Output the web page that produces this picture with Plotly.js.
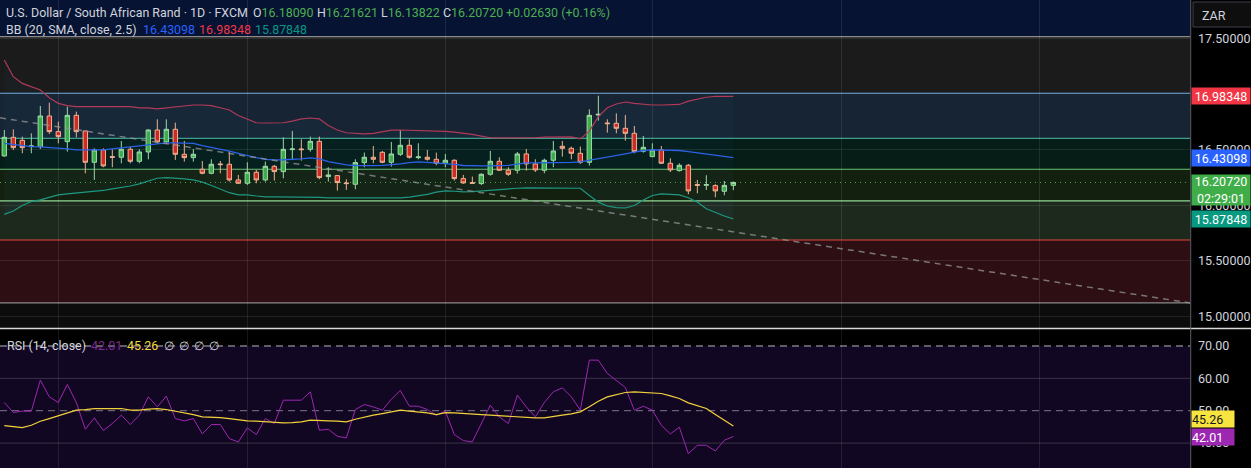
<!DOCTYPE html>
<html><head><meta charset="utf-8">
<script src="https://cdn.plot.ly/plotly-3.0.1.min.js"></script>
<style>html,body{margin:0;padding:0;background:#000;overflow:hidden}#chart{width:1251px;height:468px}</style>
</head><body><div id="chart"></div>
<script>
// ---- data (daily bars, oldest first) ----
const opens = [16.446,16.614,16.587,16.530,16.530,16.806,16.665,16.575,16.812,16.671,
16.389,16.500,16.440,16.434,16.506,16.398,16.482,16.680,16.572,16.686,
16.461,16.431,16.326,16.290,16.374,16.371,16.230,16.200,16.299,16.230,
16.353,16.305,16.503,16.509,16.506,16.578,16.260,16.269,16.203,16.191,
16.386,16.434,16.479,16.389,16.461,16.542,16.431,16.434,16.416,16.380,
16.407,16.242,16.206,16.197,16.281,16.398,16.317,16.317,16.464,16.374,
16.317,16.407,16.533,16.515,16.470,16.389,16.815,16.743,16.740,16.695,
16.650,16.488,16.440,16.500,16.380,16.314,16.362,16.188,16.182,16.179,
16.128,16.18090];
const highs = [16.680,16.686,16.620,16.650,16.896,16.926,16.755,16.890,16.845,16.671,
16.515,16.515,16.506,16.581,16.530,16.506,16.686,16.776,16.776,16.746,
16.581,16.509,16.401,16.416,16.401,16.491,16.275,16.389,16.320,16.395,
16.365,16.614,16.671,16.596,16.620,16.620,16.344,16.275,16.236,16.416,
16.476,16.536,16.491,16.572,16.680,16.596,16.560,16.500,16.476,16.464,
16.416,16.275,16.260,16.290,16.491,16.434,16.344,16.482,16.509,16.416,
16.422,16.581,16.581,16.530,16.530,16.866,16.989,16.776,16.830,16.815,
16.716,16.626,16.560,16.536,16.425,16.380,16.374,16.230,16.272,16.191,
16.221,16.21621];
const lows = [16.440,16.500,16.470,16.470,16.509,16.644,16.560,16.485,16.614,16.290,
16.230,16.344,16.344,16.380,16.380,16.380,16.416,16.554,16.554,16.410,
16.395,16.395,16.281,16.281,16.290,16.215,16.194,16.185,16.200,16.215,
16.224,16.245,16.410,16.404,16.485,16.236,16.215,16.134,16.140,16.146,
16.344,16.380,16.380,16.350,16.446,16.422,16.416,16.404,16.362,16.344,
16.224,16.194,16.194,16.185,16.269,16.311,16.266,16.287,16.314,16.302,
16.290,16.344,16.440,16.416,16.374,16.359,16.764,16.656,16.650,16.584,
16.470,16.476,16.434,16.374,16.302,16.305,16.101,16.110,16.140,16.074,
16.092,16.13822];
const closes = [16.614,16.521,16.521,16.536,16.806,16.665,16.620,16.812,16.665,16.389,
16.500,16.356,16.434,16.506,16.398,16.482,16.680,16.572,16.686,16.461,
16.431,16.461,16.290,16.371,16.368,16.230,16.200,16.299,16.230,16.353,
16.305,16.506,16.509,16.503,16.578,16.251,16.275,16.206,16.197,16.386,
16.434,16.416,16.389,16.464,16.542,16.434,16.437,16.416,16.380,16.407,
16.242,16.203,16.200,16.281,16.398,16.317,16.281,16.464,16.374,16.320,
16.407,16.491,16.515,16.470,16.389,16.812,16.821,16.737,16.695,16.650,
16.485,16.524,16.500,16.380,16.320,16.362,16.131,16.182,16.188,16.131,
16.18090,16.20720];

const bbUpper = [17.31,17.16,17.10,17.07,17.04,16.97,16.92,16.90,16.89,16.89,
16.89,16.89,16.89,16.89,16.89,16.88,16.88,16.87,16.88,16.89,
16.90,16.905,16.905,16.90,16.88,16.86,16.81,16.78,16.745,16.743,
16.743,16.745,16.76,16.78,16.788,16.78,16.72,16.68,16.655,16.648,
16.644,16.65,16.665,16.678,16.68,16.678,16.675,16.672,16.671,16.668,
16.66,16.652,16.64,16.625,16.61,16.608,16.608,16.608,16.608,16.61,
16.616,16.617,16.617,16.617,16.60,16.67,16.80,16.88,16.914,16.932,
16.92,16.91,16.905,16.905,16.905,16.91,16.94,16.96,16.975,16.984,
16.985,16.98348];
const bbMiddle = [16.56,16.55,16.54,16.53,16.527,16.522,16.518,16.51,16.50,16.50,
16.50,16.50,16.51,16.518,16.53,16.54,16.548,16.556,16.563,16.563,
16.563,16.56,16.54,16.525,16.51,16.49,16.47,16.447,16.43,16.415,
16.41,16.412,16.415,16.42,16.428,16.42,16.395,16.38,16.365,16.36,
16.356,16.358,16.362,16.366,16.375,16.385,16.392,16.388,16.383,16.378,
16.37,16.36,16.356,16.356,16.356,16.356,16.362,16.372,16.383,16.383,
16.383,16.383,16.386,16.388,16.392,16.405,16.42,16.435,16.45,16.464,
16.48,16.495,16.50,16.50,16.50,16.495,16.485,16.475,16.465,16.452,
16.442,16.43098];
const bbLower = [15.92,15.95,16.00,16.035,16.05,16.07,16.095,16.105,16.112,16.12,
16.125,16.135,16.15,16.162,16.175,16.195,16.22,16.245,16.25,16.248,
16.24,16.23,16.21,16.18,16.15,16.115,16.095,16.095,16.085,16.077,
16.077,16.077,16.077,16.077,16.075,16.072,16.068,16.068,16.068,16.068,
16.068,16.068,16.068,16.068,16.068,16.075,16.085,16.10,16.12,16.131,
16.128,16.122,16.125,16.132,16.14,16.145,16.15,16.155,16.158,16.158,
16.158,16.158,16.158,16.158,16.155,16.09,16.03,15.995,15.98,15.977,
16.00,16.05,16.09,16.104,16.10,16.095,16.07,16.03,15.97,15.935,
15.905,15.87848];

const rsi = [52.53,49.43,49.85,49.85,59.44,54.28,52.53,58.10,52.53,44.27,
47.78,43.86,46.03,48.61,45.72,48.61,54.28,51.19,54.49,47.57,
46.85,47.57,42.83,45.72,45.72,41.38,40.35,44.68,42.62,47.57,
46.03,53.25,53.25,53.25,55.83,43.96,44.27,42.10,41.59,50.36,
51.91,51.19,50.15,53.56,56.24,51.39,51.39,50.36,48.61,49.85,
42.62,40.76,40.35,46.03,51.70,48.09,46.03,54.80,51.19,48.09,
52.53,55.83,57.07,54.28,50.15,65.63,65.63,61.51,59.44,57.17,
50.15,51.39,50.15,45.51,42.83,44.89,36.74,39.32,39.32,37.56,
40.87,42.01];
const rsiMA = [45.40,44.99,44.79,45.51,46.75,47.57,48.40,49.43,50.15,50.36,
50.67,50.67,50.67,50.67,50.15,50.15,50.46,50.67,50.36,49.85,
49.43,48.81,48.09,48.09,47.88,47.57,47.16,46.85,46.75,46.54,
46.23,46.23,46.34,46.54,47.06,46.85,46.85,46.75,46.54,47.37,
48.09,48.61,49.12,49.64,50.15,49.85,49.64,49.33,48.81,49.43,
49.33,49.23,49.12,48.81,48.61,48.40,48.30,48.19,47.99,47.78,
47.78,48.09,48.61,49.02,49.64,51.19,52.94,54.28,55.01,55.62,
55.83,55.62,55.52,55.31,54.59,53.77,52.42,51.50,50.67,48.81,
47.06,45.26];

// drawings on the chart
const levels = [17.521, 17.011, 16.605, 16.326, 16.041, 15.689, 15.122];
const levelColors = ['#8c8c8c','#76aee0','#3f9f88','#6cc470','#92d896','#e0443e','#8a8a8a'];
const zoneColors = ['#061333','#1b1b1b','#162433','#051c17','#13200f','#1e291e','#2d0f13','#0c0c0c'];
const trendX = [-0.48, 131.74];
const trendY = [16.790, 15.122];
const monthStarts = [6, 27, 49, 72, 93, 115];
const priceTicks = [15, 15.5, 16, 16.5, 17.5];
const rsiTicks = [40, 50, 60, 70];

// ---- build ----
const idx = closes.map((_, i) => i);
const last = closes.length - 1;
const GRID = 'rgba(255,255,255,0.09)';
const xRange = [-0.48, 131.74];
const priceRange = [14.896, 17.851];
const rsiRange = [32.29, 75.25];
const H = 468, PW = 1190;
const mainBottom = 1 - 328 / H;
const rsiTop = 1 - 329 / H;

const traces = [
  {type:'scatter', mode:'lines', x:idx, y:bbLower, line:{color:'#1e9883', width:1.2}, xaxis:'x', yaxis:'y'},
  {type:'scatter', mode:'lines', x:idx, y:bbUpper, line:{color:'#b23a58', width:1.2}, fill:'tonexty', fillcolor:'rgba(40,130,200,0.045)', xaxis:'x', yaxis:'y'},
  {type:'scatter', mode:'lines', x:idx, y:bbMiddle, line:{color:'#2b62e8', width:1.3}, xaxis:'x', yaxis:'y'},
  {type:'scatter', mode:'lines', x:trendX, y:trendY, line:{color:'rgba(150,150,150,0.75)', width:1.5, dash:'6px,5px'}, xaxis:'x', yaxis:'y'},
  {type:'candlestick', x:idx, open:opens, high:highs, low:lows, close:closes, xaxis:'x', yaxis:'y',
   whiskerwidth:0,
   increasing:{line:{color:'#a3dba6', width:1}, fillcolor:'#3dae48'},
   decreasing:{line:{color:'#f6b48f', width:1}, fillcolor:'#d7261e'}},
  {type:'scatter', mode:'lines', x:idx, y:rsi, line:{color:'#9c27b0', width:1}, xaxis:'x2', yaxis:'y2'},
  {type:'scatter', mode:'lines', x:idx, y:rsiMA, line:{color:'#f2d13c', width:1.2}, xaxis:'x2', yaxis:'y2'}
];

const shapes = [];
const edges = [priceRange[1] + 1, ...levels, priceRange[0] - 1];
zoneColors.forEach((c, k) => {
  shapes.push({type:'rect', xref:'paper', x0:0, x1:1, yref:'y', y0:edges[k+1], y1:edges[k], fillcolor:c, line:{width:0}, layer:'below'});
});
levels.forEach((v, k) => {
  shapes.push({type:'line', xref:'paper', x0:0, x1:1, yref:'y', y0:v, y1:v, line:{color:levelColors[k], width:1.2}, layer:'between'});
});
shapes.push({type:'line', xref:'paper', x0:0, x1:1, yref:'y', y0:closes[last], y1:closes[last], line:{color:'#4caf50', width:1, dash:'1px,4px'}, layer:'between'});
// RSI pane
shapes.push({type:'rect', xref:'paper', x0:0, x1:1, yref:'y2', y0:30, y1:70, fillcolor:'#120722', line:{width:0}, layer:'below'});
shapes.push({type:'line', xref:'paper', x0:0, x1:1, yref:'y2', y0:60, y1:60, line:{color:'#3a3346', width:1}, layer:'below'});
shapes.push({type:'line', xref:'paper', x0:0, x1:1, yref:'y2', y0:40, y1:40, line:{color:'#3a3346', width:1}, layer:'below'});
shapes.push({type:'line', xref:'paper', x0:0, x1:1, yref:'y2', y0:70, y1:70, line:{color:'#b8b8c0', width:1, dash:'7px,5px'}, layer:'between'});
shapes.push({type:'line', xref:'paper', x0:0, x1:1, yref:'y2', y0:50, y1:50, line:{color:'#7d7888', width:1, dash:'7px,5px'}, layer:'between'});
// separators
shapes.push({type:'line', xref:'paper', x0:0, x1:1251/PW, yref:'paper', y0:1-328.5/H, y1:1-328.5/H, line:{color:'#d8d8d8', width:1.5}});
shapes.push({type:'line', xref:'paper', x0:1.0006, x1:1.0006, yref:'paper', y0:0, y1:1, line:{color:'#5d606b', width:1}});
shapes.push({type:'rect', xref:'paper', x0:1193/PW, x1:1256/PW, yref:'paper', y0:1-27/H, y1:1-2/H, fillcolor:'#0e0e0e', line:{color:'#3c3f48', width:1}});

const f5 = v => v.toFixed(5);
const g = '#4caf50', w = '#d1d4dc';
const col = (c, t) => `<span style="color:${c}">${t}</span>`;
const chg = closes[last] - closes[last-1];
const pct = chg / closes[last-1] * 100;
const sgn = v => (v >= 0 ? '+' : '');

// header segments: [text, left pixel, centre pixel from top]
const seg = (text, px, py, size) => ({xref:'paper', x:px/PW, xanchor:'left', yref:'paper', y:1-py/H, yanchor:'middle', text, showarrow:false, font:{size:size||12.4}});
const annotations = [
  seg(col(w,'U.S. Dollar / South African Rand · 1D · FXCM'), 4, 12),
  seg(col(w,'O') + col(g,f5(opens[last])), 251, 12),
  seg(col(w,'H') + col(g,f5(highs[last])), 315, 12),
  seg(col(w,'L') + col(g,f5(lows[last])), 379, 12),
  seg(col(w,'C') + col(g,f5(closes[last])), 441, 12),
  seg(col(g, sgn(chg) + chg.toFixed(5) + ' (' + sgn(pct) + pct.toFixed(2) + '%)'), 504, 12),
  seg(col(w,'BB (20, SMA, close, 2.5)'), 4, 29),
  seg(col('#2962ff', f5(bbMiddle[last])), 141, 29),
  seg(col('#f23645', f5(bbUpper[last])), 197, 29),
  seg(col('#089981', f5(bbLower[last])), 253, 29),
  seg(col(w,'RSI (14, close)'), 5, 345),
  seg(col('#7e2a94', rsi[last].toFixed(2)), 89, 345),
  seg(col('#f5dc3a', rsiMA[last].toFixed(2)), 125, 345),
  seg(col(w,'∅'), 162, 345), seg(col(w,'∅'), 177, 345), seg(col(w,'∅'), 192, 345), seg(col(w,'∅'), 207, 345),
  {xref:'paper', x:1, xanchor:'left', xshift:10, yref:'paper', y:1, yanchor:'middle', yshift:-15, text:'ZAR', showarrow:false, font:{size:12.5, color:w}}
];
const badge = (val, yref, bg, fg, text, opts) => Object.assign({xref:'paper', x:1, xanchor:'left', xshift:1, yref, y:val, yanchor:'middle', text, showarrow:false, bgcolor:bg, font:{color:fg, size:12.5}, width:58, height:16, align:'center', borderpad:0}, opts||{});
annotations.push(
  badge(bbUpper[last], 'y', '#f23645', '#ffffff', f5(bbUpper[last])),
  badge(bbMiddle[last], 'y', '#2962ff', '#ffffff', f5(bbMiddle[last])),
  badge(closes[last], 'y', '#3fae49', '#ffffff', f5(closes[last]) + '<br>02:29:01', {yanchor:'top', yshift:8.5, height:30}),
  badge(bbLower[last], 'y', '#089981', '#ffffff', f5(bbLower[last])),
  badge(rsiMA[last], 'y2', '#f7e43f', '#131722', rsiMA[last].toFixed(2), {yshift:7, width:42, align:'left'}),
  badge(rsi[last], 'y2', '#9c27b0', '#ffffff', rsi[last].toFixed(2), {width:42, align:'left'})
);

const xBase = {range:xRange, tickvals:monthStarts, showticklabels:false, showgrid:true, gridcolor:GRID, zeroline:false, fixedrange:true, ticks:''};
const layout = {
  width:1251, height:468,
  margin:{l:0, r:61, t:0, b:0, pad:0},
  paper_bgcolor:'#000', plot_bgcolor:'#000',
  showlegend:false, hovermode:false, dragmode:false,
  font:{family:'Roboto, "Noto Sans", sans-serif', color:w, size:12.5},
  xaxis:Object.assign({domain:[0,1], anchor:'y', rangeslider:{visible:false}}, xBase),
  xaxis2:Object.assign({domain:[0,1], anchor:'y2'}, xBase),
  yaxis:{domain:[mainBottom,1], range:priceRange, side:'right', anchor:'x', tickvals:priceTicks, tickformat:'.5f',
         showgrid:true, gridcolor:GRID, zeroline:false, ticks:'', ticklabelstandoff:7, fixedrange:true, tickfont:{size:12.5, color:w}},
  yaxis2:{domain:[0,rsiTop], range:rsiRange, side:'right', anchor:'x2', tickvals:rsiTicks, tickformat:'.2f',
         showgrid:false, zeroline:false, ticks:'', ticklabelstandoff:7, fixedrange:true, tickfont:{size:12.5, color:w}},
  shapes, annotations
};
Plotly.newPlot('chart', traces, layout, {displayModeBar:false, staticPlot:true});
</script></body></html>
